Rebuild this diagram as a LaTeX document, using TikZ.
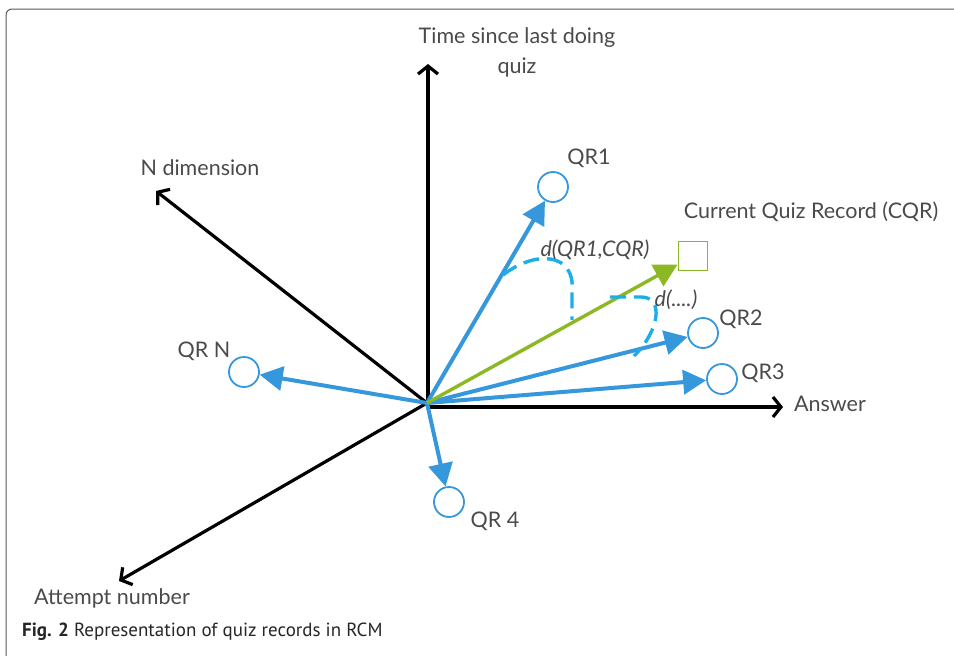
\documentclass[tikz,border=0pt]{standalone}
\usepackage{fontspec}
\setmainfont{Lato}
\newfontfamily\capfont{PT Sans}
\usetikzlibrary{arrows.meta}
\definecolor{txt}{HTML}{4A4A4A}
\definecolor{qblue}{HTML}{3597DC}
\definecolor{qgreen}{HTML}{8CB923}
\definecolor{dblue}{HTML}{1BAEE8}
\tikzset{
  axis/.style={line width=3.2pt, black, -{Straight Barb[length=8pt,width=20pt,line width=3.2pt]}},
  vec/.style={line width=4pt, qblue, -{Triangle[length=23pt,width=24pt]}},
  cvec/.style={line width=3.4pt, qgreen, -{Triangle[length=23pt,width=24pt]}},
  rec/.style={circle, draw=qblue, line width=1.8pt, minimum size=30pt, inner sep=0pt},
  crec/.style={rectangle, draw=qgreen, line width=1.9pt, minimum size=29pt, inner sep=0pt},
  lab/.style={text=txt, font=\fontsize{21.5}{30}\selectfont, inner sep=0pt},
  ilab/.style={text=txt, font=\fontsize{21.5}{30}\selectfont\itshape, inner sep=0pt},
  dist/.style={dblue, line width=3.4pt, dash pattern=on 16pt off 8pt}
}
\begin{document}
\begin{tikzpicture}[x=1pt,y=-1pt]
\useasboundingbox (0,0) rectangle (954,656);
\draw[gray!70!black, line width=1pt, rounded corners=6pt] (6,656) -- (6,9) -- (954,9);
% origin and axes
\coordinate (O) at (427,403);
\coordinate (C) at (428,407);
\coordinate (ty) at (428,64);
\coordinate (tx) at (783,407);
\coordinate (tn) at (156,191);
\coordinate (ta) at (119,581);
\draw[axis] (C) -- (ty);
\draw[axis] (C) -- (tx);
\draw[axis] (O) -- (tn);
\draw[axis] (O) -- (ta);
% records
\node[rec] (qr1) at (553,187) {};
\node[rec] (qr2) at (703,333) {};
\node[rec] (qr3) at (722,379) {};
\node[rec] (qrn) at (244,372) {};
\node[rec] (qr4) at (449,502) {};
\node[crec] (cqr) at (693,256) {};
\draw[vec] (O) -- (qr1);
\draw[vec] (O) -- (qr2);
\draw[vec] (O) -- (qr3);
\draw[vec] (O) -- (qrn);
\draw[vec] (O) -- (qr4);
\draw[cvec] (O) -- (cqr);
% distance arcs
\draw[dist] (503,275) .. controls (535,250) and (576,252) .. (572,292) -- (572,320);
\draw[dist] (610,297) -- (641,297) .. controls (664,297) and (660,330) .. (634,356);
% labels
\node[lab, align=center] (ly) at (517,52) {Time since last doing\\quiz};
\node[lab] (lx) at (830,404) {Answer};
\node[lab] (ln) at (200,168) {N dimension};
\node[lab] (la) at (112,598) {Attempt number};
\node[lab] (l1) at (589,158) {QR1};
\node[lab] (l2) at (741,319) {QR2};
\node[lab] (l3) at (763,373) {QR3};
\node[lab] (lqn) at (204,351) {QR N};
\node[lab] (l4) at (495,521) {QR 4};
\node[lab] (lc) at (811,212) {Current Quiz Record (CQR)};
\node[ilab] (d1) at (595,250) {d(QR1,CQR)};
\node[ilab] (d2) at (676,300) {d(....)};
\node[anchor=west, text=black!85, font=\capfont\fontsize{19}{22}\selectfont, inner sep=0pt] (cap) at (22,632) {\textbf{Fig. 2}\hspace{5pt}Representation of quiz records in RCM};
\end{tikzpicture}
\end{document}
